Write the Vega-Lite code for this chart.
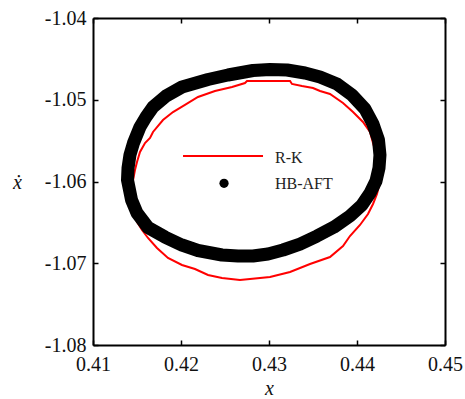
{
  "$schema": "https://vega.github.io/schema/vega-lite/v6.json",
  "width": 352,
  "height": 327,
  "autosize": {"type": "none"},
  "padding": {"left": 93, "top": 18, "right": 20, "bottom": 54},
  "background": "white",
  "config": {
    "view": {"stroke": null},
    "font": "Liberation Serif",
    "axis": {
      "grid": false,
      "domainColor": "black",
      "domainWidth": 2,
      "tickColor": "black",
      "tickWidth": 1.5,
      "tickSize": -5,
      "labelFont": "Liberation Serif",
      "labelFontSize": 20,
      "labelColor": "#111111",
      "titleFont": "Liberation Serif",
      "titleFontSize": 20,
      "titleFontWeight": "normal",
      "titleFontStyle": "italic",
      "titleColor": "#111111",
      "labelFlush": false,
      "labelOverlap": false,
      "labelBound": false
    }
  },
  "datasets": {
    "rk": [
      {"i": 0, "x": 0.41455, "y": -1.06165},
      {"i": 1, "x": 0.41455, "y": -1.05982},
      {"i": 2, "x": 0.41477, "y": -1.05859},
      {"i": 3, "x": 0.415, "y": -1.05761},
      {"i": 4, "x": 0.41534, "y": -1.05639},
      {"i": 5, "x": 0.41591, "y": -1.05529},
      {"i": 6, "x": 0.41648, "y": -1.05468},
      {"i": 7, "x": 0.41682, "y": -1.05394},
      {"i": 8, "x": 0.41795, "y": -1.05248},
      {"i": 9, "x": 0.41909, "y": -1.0515},
      {"i": 10, "x": 0.42045, "y": -1.05064},
      {"i": 11, "x": 0.42193, "y": -1.04966},
      {"i": 12, "x": 0.42386, "y": -1.04893},
      {"i": 13, "x": 0.4258, "y": -1.04844},
      {"i": 14, "x": 0.42727, "y": -1.04795},
      {"i": 15, "x": 0.4275, "y": -1.04771},
      {"i": 16, "x": 0.43239, "y": -1.04771},
      {"i": 17, "x": 0.43261, "y": -1.04807},
      {"i": 18, "x": 0.43375, "y": -1.04832},
      {"i": 19, "x": 0.43500, "y": -1.04856},
      {"i": 20, "x": 0.4358, "y": -1.04893},
      {"i": 21, "x": 0.43693, "y": -1.04930},
      {"i": 22, "x": 0.43841, "y": -1.0504},
      {"i": 23, "x": 0.43955, "y": -1.0515},
      {"i": 24, "x": 0.44068, "y": -1.05272},
      {"i": 25, "x": 0.44148, "y": -1.05394},
      {"i": 26, "x": 0.44182, "y": -1.05529},
      {"i": 27, "x": 0.44239, "y": -1.05737},
      {"i": 28, "x": 0.44261, "y": -1.06006},
      {"i": 29, "x": 0.44227, "y": -1.06153},
      {"i": 30, "x": 0.44182, "y": -1.06275},
      {"i": 31, "x": 0.44125, "y": -1.06398},
      {"i": 32, "x": 0.44034, "y": -1.06532},
      {"i": 33, "x": 0.4392, "y": -1.06667},
      {"i": 34, "x": 0.43841, "y": -1.06789},
      {"i": 35, "x": 0.43693, "y": -1.06924},
      {"i": 36, "x": 0.43466, "y": -1.07009},
      {"i": 37, "x": 0.43239, "y": -1.07107},
      {"i": 38, "x": 0.43011, "y": -1.07168},
      {"i": 39, "x": 0.42784, "y": -1.07193},
      {"i": 40, "x": 0.4267, "y": -1.07205},
      {"i": 41, "x": 0.42466, "y": -1.0718},
      {"i": 42, "x": 0.42307, "y": -1.07144},
      {"i": 43, "x": 0.42159, "y": -1.0707},
      {"i": 44, "x": 0.42011, "y": -1.07021},
      {"i": 45, "x": 0.41852, "y": -1.06936},
      {"i": 46, "x": 0.41727, "y": -1.06813},
      {"i": 47, "x": 0.41625, "y": -1.06691},
      {"i": 48, "x": 0.41557, "y": -1.06593},
      {"i": 49, "x": 0.415, "y": -1.06495},
      {"i": 50, "x": 0.41466, "y": -1.06349},
      {"i": 51, "x": 0.41455, "y": -1.06165}
    ],
    "hb": [
      {"i": 1, "x": 0.41392, "y": -1.05982},
      {"i": 2, "x": 0.41398, "y": -1.05835},
      {"i": 3, "x": 0.4142, "y": -1.05676},
      {"i": 4, "x": 0.4146, "y": -1.05529},
      {"i": 5, "x": 0.41534, "y": -1.05333},
      {"i": 6, "x": 0.41602, "y": -1.05211},
      {"i": 7, "x": 0.41682, "y": -1.05089},
      {"i": 8, "x": 0.4183, "y": -1.04954},
      {"i": 9, "x": 0.42011, "y": -1.04844},
      {"i": 10, "x": 0.42307, "y": -1.04752},
      {"i": 11, "x": 0.42534, "y": -1.04697},
      {"i": 12, "x": 0.42818, "y": -1.04642},
      {"i": 13, "x": 0.43011, "y": -1.0463},
      {"i": 14, "x": 0.43205, "y": -1.04636},
      {"i": 15, "x": 0.43409, "y": -1.04673},
      {"i": 16, "x": 0.4358, "y": -1.04722},
      {"i": 17, "x": 0.43773, "y": -1.04807},
      {"i": 18, "x": 0.43943, "y": -1.04942},
      {"i": 19, "x": 0.44091, "y": -1.05113},
      {"i": 20, "x": 0.44182, "y": -1.05297},
      {"i": 21, "x": 0.44244, "y": -1.05492},
      {"i": 22, "x": 0.44261, "y": -1.05676},
      {"i": 23, "x": 0.4425, "y": -1.05835},
      {"i": 24, "x": 0.44216, "y": -1.05994},
      {"i": 25, "x": 0.44148, "y": -1.06141},
      {"i": 26, "x": 0.44057, "y": -1.06287},
      {"i": 27, "x": 0.4392, "y": -1.06422},
      {"i": 28, "x": 0.43739, "y": -1.06557},
      {"i": 29, "x": 0.43545, "y": -1.06667},
      {"i": 30, "x": 0.43352, "y": -1.06765},
      {"i": 31, "x": 0.43159, "y": -1.06838},
      {"i": 32, "x": 0.42989, "y": -1.06887},
      {"i": 33, "x": 0.42818, "y": -1.06911},
      {"i": 34, "x": 0.42648, "y": -1.06911},
      {"i": 35, "x": 0.42466, "y": -1.06899},
      {"i": 36, "x": 0.42193, "y": -1.06844},
      {"i": 37, "x": 0.42011, "y": -1.06777},
      {"i": 38, "x": 0.41818, "y": -1.06679},
      {"i": 39, "x": 0.41625, "y": -1.06563},
      {"i": 40, "x": 0.415, "y": -1.06385},
      {"i": 41, "x": 0.41438, "y": -1.06226}
    ],
    "legline": [
      {"i": 0, "x": 0.42023, "y": -1.05688},
      {"i": 1, "x": 0.42932, "y": -1.05688}
    ],
    "legdot": [
      {"x": 0.42489, "y": -1.06022}
    ],
    "legtext": [
      {"x": 0.43068, "y": -1.05713, "label": "R-K"},
      {"x": 0.43068, "y": -1.06031, "label": "HB-AFT"}
    ]
  },
  "layer": [
    {
      "data": {"name": "rk"},
      "mark": {"type": "line", "color": "#ff0000", "strokeWidth": 2},
      "encoding": {
        "x": {
          "field": "x", "type": "quantitative",
          "scale": {"domain": [0.41, 0.45], "nice": false, "zero": false},
          "axis": {
            "orient": "bottom",
            "values": [0.41, 0.42, 0.43, 0.44, 0.45],
            "format": ".2f",
            "labelPadding": 14,
            "title": "x",
            "titleY": 43,
            "titleBaseline": "middle"
          }
        },
        "y": {
          "field": "y", "type": "quantitative",
          "scale": {"domain": [-1.08, -1.04], "nice": false, "zero": false},
          "axis": {
            "orient": "left",
            "values": [-1.08, -1.07, -1.06, -1.05, -1.04],
            "format": ".2f",
            "labelExpr": "replace(datum.label, '\u2212', '-')",
            "labelPadding": 12,
            "title": "x\u0307",
            "titleAngle": 0,
            "titleX": -76,
            "titleY": 164,
            "titleAlign": "center",
            "titleBaseline": "middle"
          }
        },
        "order": {"field": "i", "type": "quantitative"}
      }
    },
    {
      "data": {"name": "hb"},
      "mark": {"type": "line", "color": "black", "strokeWidth": 13, "strokeJoin": "round", "interpolate": "linear-closed"},
      "encoding": {
        "x": {
          "field": "x", "type": "quantitative",
          "scale": {"domain": [0.41, 0.45], "nice": false, "zero": false},
          "axis": {
            "orient": "top",
            "values": [0.41, 0.42, 0.43, 0.44, 0.45],
            "labels": false,
            "title": null
          }
        },
        "y": {
          "field": "y", "type": "quantitative",
          "scale": {"domain": [-1.08, -1.04], "nice": false, "zero": false},
          "axis": {
            "orient": "right",
            "values": [-1.08, -1.07, -1.06, -1.05, -1.04],
            "labels": false,
            "title": null
          }
        },
        "order": {"field": "i", "type": "quantitative"}
      }
    },
    {
      "data": {"name": "legline"},
      "mark": {"type": "line", "color": "#ff0000", "strokeWidth": 2},
      "encoding": {
        "x": {"field": "x", "type": "quantitative", "axis": null},
        "y": {"field": "y", "type": "quantitative", "axis": null},
        "order": {"field": "i", "type": "quantitative"}
      }
    },
    {
      "data": {"name": "legdot"},
      "mark": {"type": "circle", "color": "black", "opacity": 1, "size": 85},
      "encoding": {
        "x": {"field": "x", "type": "quantitative", "axis": null},
        "y": {"field": "y", "type": "quantitative", "axis": null}
      }
    },
    {
      "data": {"name": "legtext"},
      "mark": {"type": "text", "align": "left", "baseline": "middle", "font": "Liberation Serif", "fontSize": 16, "color": "#222222"},
      "encoding": {
        "x": {"field": "x", "type": "quantitative", "axis": null},
        "y": {"field": "y", "type": "quantitative", "axis": null},
        "text": {"field": "label"}
      }
    }
  ],
  "resolve": {"axis": {"x": "independent", "y": "independent"}}
}
